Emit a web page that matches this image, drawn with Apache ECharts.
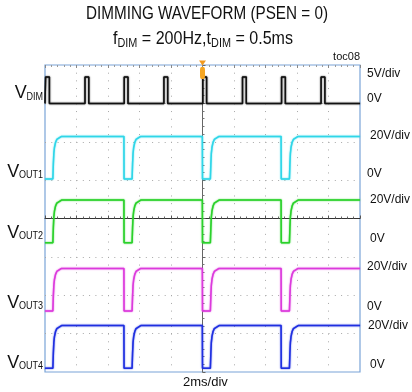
<!DOCTYPE html>
<html><head><meta charset="utf-8">
<script src="https://cdn.jsdelivr.net/npm/echarts@6/dist/echarts.min.js"></script>
<style>html,body{margin:0;padding:0;background:#fff}#c{width:412px;height:392px}</style>
</head><body><div id="c"></div>
<script>
// ---- data (time in ms relative to trigger, value in volts) ----
const vdimWave = [[-10,0],[-9.96,0],[-9.96,3.45],[-9.72,3.45],[-9.72,0],
  [-7.46,0],[-7.46,3.45],[-7.22,3.45],[-7.22,0],
  [-4.97,0],[-4.97,3.45],[-4.73,3.45],[-4.73,0],
  [-2.45,0],[-2.45,3.45],[-2.21,3.45],[-2.21,0],
  [0.02,0],[0.02,3.45],[0.26,3.45],[0.26,0],
  [2.54,0],[2.54,3.45],[2.78,3.45],[2.78,0],
  [5.02,0],[5.02,3.45],[5.26,3.45],[5.26,0],
  [7.53,0],[7.53,3.45],[7.77,3.45],[7.77,0],
  [10,0]];
const voutWave = [[-10,0],[-9.5,0],[-9.47,7.8],[-9.44,13.3],[-9.4,16.4],[-9.33,19.1],[-9.25,20.6],[-9.15,21.5],[-8.95,22.2],
  [-4.99,22.2],[-4.98,0],[-4.47,0],[-4.44,7.8],[-4.41,13.3],[-4.37,16.4],[-4.3,19.1],[-4.22,20.6],[-4.12,21.5],[-3.92,22.2],
  [-0.01,22.2],[0,0],[0.5,0],[0.53,7.8],[0.56,13.3],[0.6,16.4],[0.67,19.1],[0.75,20.6],[0.85,21.5],[1.05,22.2],
  [4.99,22.2],[5.0,0],[5.52,0],[5.55,7.8],[5.58,13.3],[5.62,16.4],[5.69,19.1],[5.77,20.6],[5.87,21.5],[6.07,22.2],
  [10,22.2]];
const channelNames = ['DIM','OUT1','OUT2','OUT3','OUT4'];
const channelColors = ['#111111','#2fd6e8','#2bd12b','#dc3adc','#1f2fe0'];
const channelOffsets = [3.0, 1.03, -0.63, -2.41, -3.9];   // divisions where 0V sits
const channelScales = [5, 20, 20, 20, 20];               // V/div
const scaleLabels = ['5V/div','20V/div','20V/div','20V/div','20V/div'];
const zeroLabel = '0V';
const timeBase = '2ms/div';
const titleLine1 = 'DIMMING WAVEFORM (PSEN = 0)';
const titleLine2 = [['f', 0], ['DIM', 1], [' = 200Hz,', 0], ['t', 0], ['DIM', 1], [' = 0.5ms', 0]]; // [text, isSubscript]

const waves = [vdimWave, voutWave, voutWave, voutWave, voutWave];
const FONT = "'Liberation Sans', Arial, sans-serif";
const mctx = document.createElement('canvas').getContext('2d');
function tw(text, size) { mctx.font = size + 'px ' + FONT; return mctx.measureText(text).width; }

const series = waves.map((w, i) => ({
  type: 'line', name: channelNames[i], showSymbol: false, animation: false, z: 3 + i,
  lineStyle: { color: channelColors[i], width: 1.5, shadowBlur: 1.5, shadowColor: channelColors[i] },
  data: w.map(p => [p[0], channelOffsets[i] + p[1] / channelScales[i]])
}));
series[0].markPoint = {
  symbolKeepAspect: false, animation: false, label: { show: false },
  data: [
    { coord: [0, 4], symbol: 'triangle', symbolRotate: 180, symbolSize: [7, 5], symbolOffset: [0, -2], itemStyle: { color: '#f29a1e' } },
    { coord: [0, 4], symbol: 'roundRect', symbolSize: [5, 12], symbolOffset: [0, 8], itemStyle: { color: '#f5a623' } }
  ]
};

const graphics = [];
function txt(text, x, y, size, opts) {
  const o = opts || {};
  graphics.push({ type: 'text', x: x, y: y, scaleX: o.scaleX || 1, z: 100,
    style: { text: text, font: size + 'px ' + FONT, fill: '#111', textAlign: o.align || 'left', textVerticalAlign: 'middle' } });
}
// title line 1 (condensed)
{
  const s = 18.5, w = tw(titleLine1, s), sc = 242 / w;
  txt(titleLine1, 207, 14, s, { align: 'center', scaleX: sc });
}
// title line 2 with subscripts
{
  const mainS = 18.5, subS = 12.5, base = 45.5;
  const widths = titleLine2.map(p => tw(p[0], p[1] ? subS : mainS));
  const total = widths.reduce((a, b) => a + b, 0), sc = 180 / total;
  let x = 203 - 90;
  titleLine2.forEach((p, k) => {
    const s = p[1] ? subS : mainS;
    const y = p[1] ? base + 2.5 - 0.35 * s : base - 0.35 * s;
    txt(p[0], x, y, s, { scaleX: sc });
    x += widths[k] * sc;
  });
}
txt('toc08', 360, 57, 11, { align: 'right' });
txt(timeBase, 183, 382, 13);
// left channel labels: V + subscript, right-aligned at x=43
const vCenters = [93, 171.5, 232.5, 302.5, 362.5];
channelNames.forEach((n, i) => {
  const subSc = 0.82, subW = tw(n, 11) * subSc;
  txt(n, 43 - subW, vCenters[i] + 3.5, 11, { scaleX: subSc });
  txt('V', 43 - subW + 0.3, vCenters[i] + 0.5, 18, { align: 'right' });
});
// right labels
const rightScaleLabelPos = [[367, 74], [370, 136], [370, 200], [367, 267], [368, 325.5]];
const rightZeroPos = [[367, 99], [367, 174], [370, 238.5], [367, 306.5], [370, 365]];
channelNames.forEach((n, i) => {
  txt(scaleLabels[i], rightScaleLabelPos[i][0], rightScaleLabelPos[i][1], 12);
  txt(zeroLabel, rightZeroPos[i][0], rightZeroPos[i][1], 12);
});

const dotX = { color: '#a8a8a8', width: 1, type: [1, 6.675] };
const dotY = { color: '#a8a8a8', width: 1, type: [1, 5.3] };
const chart = echarts.init(document.getElementById('c'), null, { renderer: 'canvas' });
chart.setOption({
  animation: false,
  backgroundColor: '#fff',
  grid: { left: 45, top: 65, width: 315, height: 307, show: true, borderColor: '#7aa4d8', borderWidth: 1.2, backgroundColor: 'transparent' },
  xAxis: [
    { type: 'value', min: -10, max: 10, interval: 2,
      axisLine: { show: true, onZero: true, lineStyle: { color: '#333', width: 1 } },
      axisTick: { show: true, inside: true, length: 3, lineStyle: { color: '#555' } },
      minorTick: { show: true, splitNumber: 5, length: 2, lineStyle: { color: '#666' } },
      axisLabel: { show: false },
      splitLine: { show: true, showMinLine: false, showMaxLine: false, lineStyle: dotX } },
    { type: 'value', position: 'top', min: -10, max: 10, interval: 2,
      axisLine: { show: false, onZero: false },
      axisTick: { show: true, inside: true, length: 3, lineStyle: { color: '#888' } },
      minorTick: { show: true, splitNumber: 5, length: 2, lineStyle: { color: '#999' } },
      axisLabel: { show: false }, splitLine: { show: false } }
  ],
  yAxis: { type: 'value', min: -4, max: 4, interval: 1,
    axisLine: { show: true, onZero: true, lineStyle: { color: '#666', width: 1 } },
    axisTick: { show: true, inside: true, length: 3, lineStyle: { color: '#666' } },
    minorTick: { show: true, splitNumber: 5, length: 2, lineStyle: { color: '#777' } },
    axisLabel: { show: false },
    splitLine: { show: true, showMinLine: false, showMaxLine: false, lineStyle: dotY } },
  series: series,
  graphic: graphics
});
</script></body></html>
